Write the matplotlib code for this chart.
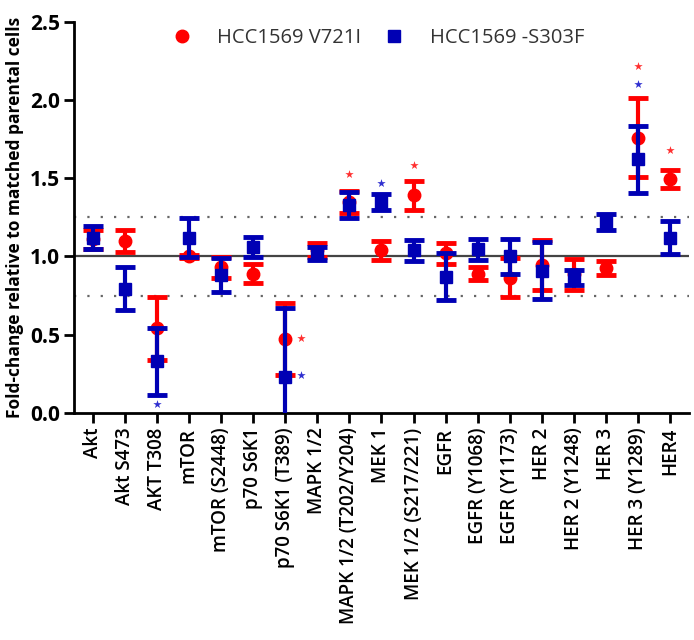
import matplotlib
matplotlib.use("Agg")
from matplotlib import pyplot as plt
import numpy as np

plt.rcParams['font.family'] = ['Open Sans', 'DejaVu Sans']

labels = ["Akt", "Akt S473", "AKT T308", "mTOR", "mTOR (S2448)", "p70 S6K1",
          "p70 S6K1 (T389)", "MAPK 1/2", "MAPK 1/2 (T202/Y204)", "MEK 1",
          "MEK 1/2 (S217/221)", "EGFR", "EGFR (Y1068)", "EGFR (Y1173)", "HER 2",
          "HER 2 (Y1248)", "HER 3", "HER 3 (Y1289)", "HER4"]

# HCC1569 V721I
v721_mean = [1.11, 1.10, 0.54, 1.00, 0.93, 0.89, 0.47, 1.04, 1.35, 1.04,
             1.39, 1.02, 0.89, 0.865, 0.945, 0.885, 0.925, 1.76, 1.495]
v721_err = [0.06, 0.07, 0.20, 0.01, 0.065, 0.06, 0.23, 0.045, 0.07, 0.06,
            0.09, 0.068, 0.04, 0.125, 0.16, 0.10, 0.045, 0.25, 0.06]

# HCC1569 -S303F
s303_mean = [1.12, 0.795, 0.33, 1.12, 0.88, 1.06, 0.23, 1.02, 1.33, 1.35,
             1.04, 0.87, 1.045, 1.00, 0.91, 0.867, 1.22, 1.62, 1.12]
s303_err = [0.075, 0.14, 0.215, 0.125, 0.11, 0.065, 0.44, 0.04, 0.085, 0.05,
            0.067, 0.15, 0.067, 0.115, 0.18, 0.048, 0.05, 0.215, 0.105]

# significance stars (category position, y)
red_star_x = [8, 10, 17, 18, 6.5]
red_star_y = [1.53, 1.585, 2.22, 1.68, 0.48]
blue_star_x = [2, 9, 17, 6.5]
blue_star_y = [0.06, 1.47, 2.10, 0.24]

red = '#ff0000'
blue = '#0000b4'

fig = plt.figure(figsize=(6.94, 6.40), dpi=100)
ax = fig.add_axes([0.1066, 0.3547, 0.8862, 0.6113])

x = np.arange(len(labels))

ax.axhline(1.0, color='#444444', lw=1.6, zorder=1)
ax.axhline(1.25, color='#666666', lw=1.6, ls=(0, (1, 5)), zorder=1)
ax.axhline(0.75, color='#666666', lw=1.6, ls=(0, (1, 5)), zorder=1)

ax.errorbar(x, v721_mean, yerr=v721_err, fmt='o', color=red, ms=9, elinewidth=3,
            capsize=7, capthick=3.5, label='HCC1569 V721I', zorder=3)
ax.errorbar(x, s303_mean, yerr=s303_err, fmt='s', color=blue, ms=9, elinewidth=3,
            capsize=7, capthick=3.5, label='HCC1569 -S303F', zorder=4)

ax.scatter(red_star_x, red_star_y, marker='*', s=40, color='#ff3030', zorder=5, linewidths=0)
ax.scatter(blue_star_x, blue_star_y, marker='*', s=40, color='#3030d0', zorder=5, linewidths=0)

ax.set_xlim(-0.58, 18.58)
ax.set_ylim(0, 2.5)
ax.set_yticks([0, 0.5, 1.0, 1.5, 2.0, 2.5])
ax.set_yticklabels(['0.0', '0.5', '1.0', '1.5', '2.0', '2.5'], fontsize=15, fontweight='bold')
ax.set_xticks(x)
ax.set_xticklabels(labels, rotation=90, fontsize=13.5, fontweight='semibold')
ax.tick_params(axis='both', direction='out', width=2, length=7, color='black')
ax.tick_params(axis='y', pad=3)
ax.set_ylabel('Fold-change relative to matched parental cells', fontsize=12.5,
              fontweight='bold', labelpad=4)

for side in ['top', 'right']:
    ax.spines[side].set_visible(False)
ax.spines['left'].set_linewidth(2)
ax.spines['bottom'].set_linewidth(2)

handles, lbls = ax.get_legend_handles_labels()
handles = [h[0] for h in handles]
leg = ax.legend(handles, lbls, loc='upper center', bbox_to_anchor=(0.49, 1.03), ncol=2,
                frameon=False, fontsize=14.5, handletextpad=1.0, columnspacing=0.9,
                handlelength=1.5)
for t in leg.get_texts():
    t.set_color('#333333')

fig.savefig('out.png', dpi=100)
